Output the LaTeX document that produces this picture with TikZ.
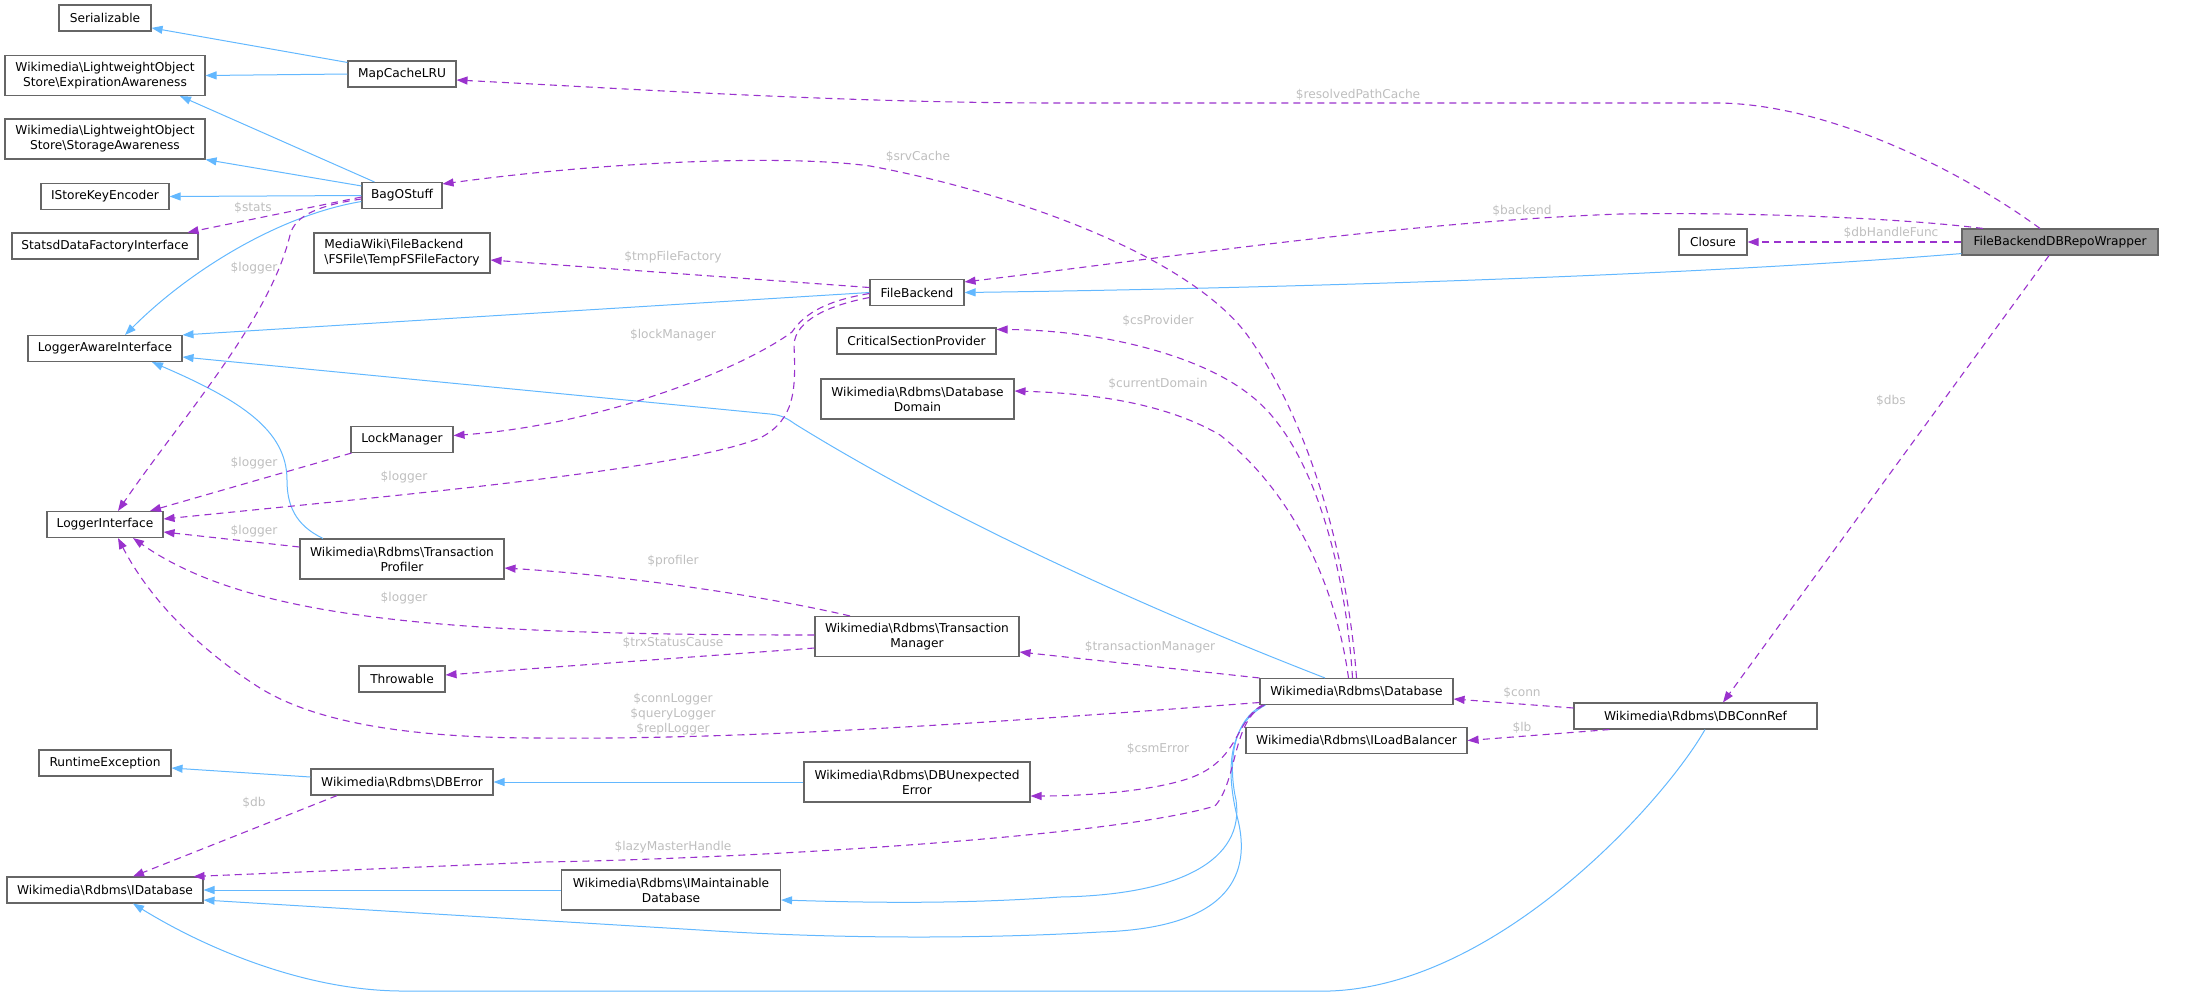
\documentclass[tikz,border=0pt]{standalone}
\usepackage{fontspec}
\setmainfont{DejaVu Sans}
\usepackage{tikz}
\usetikzlibrary{arrows.meta}
\definecolor{inhblue}{HTML}{63B8FF}
\definecolor{useviolet}{HTML}{9A32CD}
\definecolor{boxgray}{HTML}{666666}
\definecolor{maingray}{HTML}{999999}
\definecolor{lblgray}{HTML}{BEBEBE}
\newcommand*{\bs}{\textbackslash}
\tikzset{
  cls/.style={draw=boxgray,line width=1.1pt,fill=white,inner sep=0pt,minimum height=26pt,
    font=\fontsize{12.2}{15}\selectfont,align=center}, % class box
  cls2/.style={cls,minimum height=40pt}, % two lines
  cls main/.style={cls,fill=maingray},
  inherit/.style={draw=inhblue,line width=1pt,-{Triangle[length=11pt,width=8pt]}},
  uses/.style={draw=useviolet,line width=1.1pt,dash pattern=on 7pt off 5pt,-{Triangle[length=11pt,width=8pt]}},
  lbl/.style={text=lblgray,inner sep=0pt,font=\fontsize{12.2}{15}\selectfont,align=center}
}

\begin{document}
\begin{tikzpicture}[x=1pt,y=-1pt]
  \useasboundingbox (0,0) rectangle (2192,997);

  % left column
  \node[cls,minimum width=92pt] (ser) at (105,18) {Serializable};
  \node[cls2,minimum width=200pt] (expir) at (105,75.5) {Wikimedia\bs LightweightObject\\Store\bs ExpirationAwareness};
  \node[cls2,minimum width=200pt] (stor) at (105,139) {Wikimedia\bs LightweightObject\\Store\bs StorageAwareness};
  \node[cls,minimum width=128pt] (iskey) at (105,196.5) {IStoreKeyEncoder};
  \node[cls,minimum width=186pt] (statsd) at (105,246) {StatsdDataFactoryInterface};
  \node[cls,minimum width=154pt] (lawi) at (105,348.5) {LoggerAwareInterface};
  \node[cls,minimum width=116pt] (logi) at (105,524.5) {LoggerInterface};
  \node[cls,minimum width=132pt] (rte) at (105,763) {RuntimeException};
  \node[cls,minimum width=196pt] (idb) at (105,890) {Wikimedia\bs Rdbms\bs IDatabase};

  % second column
  \node[cls,minimum width=108pt] (mapc) at (402,74) {MapCacheLRU};
  \node[cls,minimum width=80pt] (bag) at (402,195.5) {BagOStuff};
  \node[cls2,minimum width=176pt,align=left] (tmpfs) at (402,253) {MediaWiki\bs FileBackend\\\bs FSFile\bs TempFSFileFactory};
  \node[cls,minimum width=102pt] (lockm) at (402,439.5) {LockManager};
  \node[cls2,minimum width=204pt] (tprof) at (402,559) {Wikimedia\bs Rdbms\bs Transaction\\Profiler};
  \node[cls,minimum width=86pt] (throw) at (402,679) {Throwable};
  \node[cls,minimum width=182pt] (dberr) at (402,782) {Wikimedia\bs Rdbms\bs DBError};

  % third column
  \node[cls2,minimum width=219pt] (imaint) at (671,890) {Wikimedia\bs Rdbms\bs IMaintainable\\Database};
  \node[cls,minimum width=94pt] (fileb) at (917,292.5) {FileBackend};
  \node[cls,minimum width=159pt] (csp) at (916.5,341) {CriticalSectionProvider};
  \node[cls2,minimum width=193pt] (ddom) at (917.5,399) {Wikimedia\bs Rdbms\bs Database\\Domain};
  \node[cls2,minimum width=204pt] (tman) at (917,636.5) {Wikimedia\bs Rdbms\bs Transaction\\Manager};
  \node[cls2,minimum width=226pt] (dbunex) at (917,782) {Wikimedia\bs Rdbms\bs DBUnexpected\\Error};

  % right part
  \node[cls,minimum width=193pt] (db) at (1356.5,691.5) {Wikimedia\bs Rdbms\bs Database};
  \node[cls,minimum width=221pt] (ilb) at (1356.5,740.5) {Wikimedia\bs Rdbms\bs ILoadBalancer};
  \node[cls,minimum width=243pt] (dbconn) at (1695.5,716) {Wikimedia\bs Rdbms\bs DBConnRef};
  \node[cls,minimum width=68pt] (closure) at (1713,242) {Closure};
  \node[cls main,minimum width=196pt] (wrap) at (2060,242) {FileBackendDBRepoWrapper};

  % inheritance
  \draw[inherit] ([yshift=-2pt]mapc.north west) -- (ser.-12);
  \draw[inherit] (mapc.west) -- (expir.east);
  \draw[inherit] ([xshift=13pt]bag.north west) -- ([xshift=75pt]expir.south);
  \draw[inherit] ([yshift=-4pt]bag.north west) -- (stor.south east);
  \draw[inherit] (bag.west) -- (iskey.east);
  \draw[inherit] ([yshift=-6pt]bag.west) .. controls (280,215) and (190,270) .. ([xshift=20pt]lawi.north);
  \draw[inherit] (fileb.west) -- (lawi.north east);
  \draw[inherit] ([xshift=-31.5pt]db.north) .. controls (1150,610) and (950,520) .. (795,424)
    .. controls (788,419) and (782,415) .. (770,414) -- ([yshift=-8.5pt]lawi.east);
  \draw[inherit] ([xshift=-79pt]tprof.north) .. controls (295,525) and (287,505) .. (287,480)
    .. controls (287,430) and (240,400) .. ([xshift=47pt]lawi.south);
  \draw[inherit] ([yshift=5pt]dberr.west) -- ([yshift=-5pt]rte.east);
  \draw[inherit] (dbunex.west) -- (dberr.east);
  \draw[inherit] (imaint.west) -- (idb.east);
  \draw[inherit] ([xshift=4pt]db.south west) .. controls (1232,720) and (1228,765) .. (1236,800)
    .. controls (1245,860) and (1180,895) .. (1060,897) .. controls (950,905) and (850,902) .. ([yshift=-10pt]imaint.east);
  \draw[inherit] ([xshift=6pt]db.south west) .. controls (1228,725) and (1225,770) .. (1238,820)
    .. controls (1250,870) and (1235,928) .. (1100,932) .. controls (1000,938) and (850,940) .. (700,930)
    -- ([yshift=-10pt]idb.east);
  \draw[inherit] ([xshift=9.5pt]dbconn.south) .. controls (1665,800) and (1500,985) .. (1330,991)
    -- (400,991) .. controls (300,990) and (200,945) .. ([xshift=28pt]idb.south);
  \draw[inherit] ([yshift=2pt]wrap.south west) .. controls (1700,275) and (1300,288) .. (fileb.east);

  % usage
  \draw[uses] ([xshift=-20pt]wrap.north) .. controls (1960,170) and (1830,105) .. (1720,103)
    -- (1060,103) .. controls (850,103) and (650,90) .. ([yshift=-6pt]mapc.east);
  \draw[uses] ([xshift=-77pt]wrap.north) .. controls (1900,218) and (1750,212) .. (1620,214)
    .. controls (1400,222) and (1150,260) .. ([yshift=-3pt]fileb.north east);
  \draw[uses] (wrap.west) -- (closure.east);
  \draw[uses] ([xshift=-11pt]wrap.south) -- ([xshift=27.5pt]dbconn.north);
  \draw[uses] ([yshift=-1.5pt]bag.west) -- ([xshift=-11pt]statsd.north east);
  \draw[uses] ([yshift=-3.5pt]bag.west) .. controls (320,205) and (295,215) .. (290,235)
    .. controls (270,320) and (180,420) .. ([xshift=13pt]logi.north);
  \draw[uses] (db.north) .. controls (1348,560) and (1310,420) .. (1245,332)
    .. controls (1180,250) and (1000,190) .. (870,166) .. controls (790,155) and (620,160) .. ([yshift=-2pt]bag.north east);
  \draw[uses] ([yshift=5pt]fileb.west) -- ([yshift=-7pt]tmpfs.east);
  \draw[uses] ([yshift=-1pt]fileb.west) .. controls (830,300) and (805,312) .. (792,332)
    .. controls (740,370) and (600,425) .. ([yshift=4pt]lockm.east);
  \draw[uses] ([yshift=-5pt]fileb.west) .. controls (830,305) and (795,320) .. (794,345)
    .. controls (796,390) and (795,420) .. (760,438) .. controls (680,470) and (400,495) .. ([yshift=5.5pt]logi.east);
  \draw[uses] ([xshift=1pt]lockm.south west) -- ([xshift=45pt]logi.north);
  \draw[uses] ([yshift=12pt]tprof.west) -- ([yshift=-7.5pt]logi.east);
  \draw[uses] ([xshift=-67pt]tman.north) .. controls (760,595) and (620,575) .. ([yshift=-9pt]tprof.east);
  \draw[uses] ([yshift=1.5pt]tman.west) .. controls (450,635) and (250,620) .. ([xshift=28pt]logi.south);
  \draw[uses] ([yshift=-11.5pt]tman.west) -- ([yshift=4pt]throw.east);
  \draw[uses] (db.north west) -- ([yshift=-15.5pt]tman.east);
  \draw[uses] ([yshift=-11pt]db.west) .. controls (1000,722) and (750,740) .. (540,738)
    .. controls (420,738) and (320,725) .. (260,688) .. controls (200,650) and (150,600) .. ([xshift=13pt]logi.south);
  \draw[uses] ([xshift=-4pt]db.north) .. controls (1345,560) and (1310,440) .. (1250,395)
    .. controls (1200,355) and (1100,330) .. ([yshift=-2pt]csp.north east);
  \draw[uses] ([xshift=-8pt]db.north) .. controls (1335,580) and (1290,490) .. (1220,435)
    .. controls (1160,400) and (1080,393) .. ([yshift=8pt]ddom.east);
  \draw[uses] ([xshift=3pt]db.south west) .. controls (1235,720) and (1240,760) .. (1190,778)
    .. controls (1150,792) and (1080,796) .. ([yshift=-14pt]dbunex.east);
  \draw[uses] ([xshift=5pt]db.south west) .. controls (1232,720) and (1238,780) .. (1215,806)
    .. controls (1100,840) and (700,860) .. (540,862) -- ([xshift=-10pt]idb.north east);
  \draw[uses] ([yshift=8pt]dbconn.west) -- ([yshift=-7.5pt]db.east);
  \draw[uses] ([xshift=36pt]dbconn.south west) -- (ilb.east);
  \draw[uses] ([xshift=-65pt]dberr.south) -- ([xshift=28pt]idb.north);

  % edge labels
  \node[lbl] (lrpc) at (1358,95) {\$resolvedPathCache};
  \node[lbl] (lback) at (1522,211) {\$backend};
  \node[lbl] (ldbh) at (1891,233) {\$dbHandleFunc};
  \node[lbl] (ldbs) at (1891,401) {\$dbs};
  \node[lbl] (lstats) at (253,208) {\$stats};
  \node[lbl] (llog1) at (254,268) {\$logger};
  \node[lbl] (lsrv) at (918,157) {\$srvCache};
  \node[lbl] (ltmp) at (673,257) {\$tmpFileFactory};
  \node[lbl] (llock) at (673,335) {\$lockManager};
  \node[lbl] (llog2) at (404,477) {\$logger};
  \node[lbl] (llog3) at (254,463) {\$logger};
  \node[lbl] (llog4) at (254,531) {\$logger};
  \node[lbl] (lprof) at (673,561) {\$profiler};
  \node[lbl] (llog5) at (404,598) {\$logger};
  \node[lbl] (ltrx) at (673,643) {\$trxStatusCause};
  \node[lbl] (ltm) at (1150,647) {\$transactionManager};
  \node[lbl] (lclog) at (673,714) {\$connLogger\\\$queryLogger\\\$replLogger};
  \node[lbl] (lcsp) at (1158,321) {\$csProvider};
  \node[lbl] (lcd) at (1158,384) {\$currentDomain};
  \node[lbl] (lcsm) at (1158,749) {\$csmError};
  \node[lbl] (llazy) at (673,847) {\$lazyMasterHandle};
  \node[lbl] (lconn) at (1522,693) {\$conn};
  \node[lbl] (llb) at (1522,728) {\$lb};
  \node[lbl] (ldb) at (254,803) {\$db};
\end{tikzpicture}
\end{document}
